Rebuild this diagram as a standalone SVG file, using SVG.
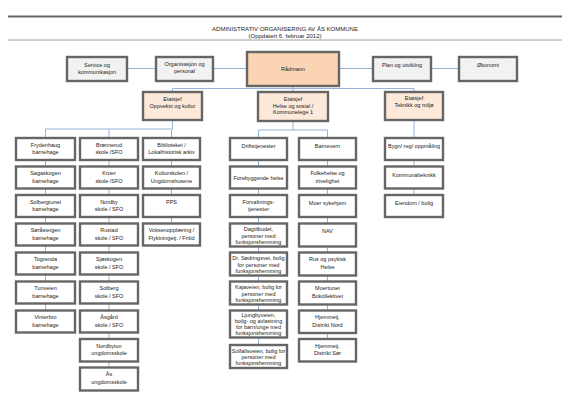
<svg xmlns="http://www.w3.org/2000/svg" width="570" height="403" viewBox="0 0 570 403">
<style>
text{font-family:"Liberation Sans",Arial,sans-serif;font-size:5.5px;fill:#222;text-anchor:middle}
.t{font-size:6px}
.b{stroke:#666;stroke-width:2.4;fill:#fff}
.g{fill:#f2f2f2}
.p{fill:#fde9d9}
.r{fill:#fbd4b4}
.c{stroke:#95b3d7;stroke-width:1;fill:none}
</style>
<rect width="570" height="403" fill="#fff"/>
<g id="title">
<line x1="8" y1="16.5" x2="562" y2="16.5" stroke="#666" stroke-width="1.8"/>
<line x1="8" y1="40" x2="562" y2="40" stroke="#888" stroke-width="0.8"/>
<text class="t" x="285" y="31">ADMINISTRATIV ORGANISERING AV ÅS KOMMUNE</text>
<text class="t" x="285" y="37.5">(Oppdatert 6. februar 2012)</text>
</g>
<g id="connectors" class="c">
<line x1="127" y1="68.5" x2="459" y2="68.5"/>
<path d="M293 86V88.5M172.5 88.5H414M172.5 88.5V92M293 88.5V92M414 88.5V92"/>
<path d="M172.5 120V129M45.5 129H171.5M45.5 129V138M109 129V138M171.5 129V138"/>
<path d="M45.5 138V333M109 138V390M171.5 138V246"/>
<path d="M293 121V130M258.5 130H327.5M258.5 130V345M327.5 130V339"/>
<path d="M414 120V217"/>
</g>
<g id="service"><rect class="b g" x="67" y="57" width="60" height="24"/><text x="97" y="67">Service og</text><text x="97" y="74">kommunikasjon</text></g>
<g id="organisasjon"><rect class="b g" x="156" y="57" width="57" height="24"/><text x="184.5" y="66">Organisasjon og</text><text x="184.5" y="73">personal</text></g>
<g id="radmann"><rect class="b r" x="247" y="52" width="92" height="34"/><text x="293" y="71">Rådmann</text></g>
<g id="plan"><rect class="b g" x="373" y="57" width="58" height="24"/><text x="402" y="66.5">Plan og utvikling</text></g>
<g id="okonomi"><rect class="b g" x="459" y="57" width="58" height="24"/><text x="488" y="66.5">Økonomi</text></g>
<g id="etat-oppvekst"><rect class="b p" x="143" y="92" width="59" height="28"/><text x="172.5" y="101">Etatsjef</text><text x="172.5" y="107.5">Oppvekst og kultur</text></g>
<g id="etat-helse"><rect class="b p" x="258" y="92" width="70" height="29"/><text x="293" y="101">Etatsjef</text><text x="293" y="107.7">Helse og sosial /</text><text x="293" y="114.4">Kommunelege 1</text></g>
<g id="etat-teknikk"><rect class="b p" x="385" y="92" width="58" height="28"/><text x="414" y="100.2">Etatsjef</text><text x="414" y="107">Teknikk og miljø</text></g>

<g id="frydenhaug"><rect class="b" x="16" y="138" width="59" height="22"/><text x="45.5" y="146.7">Frydenhaug</text><text x="45.5" y="154">barnehage</text></g>
<g id="sagaskogen"><rect class="b" x="16" y="166.5" width="59" height="22"/><text x="45.5" y="175.2">Sagaskogen</text><text x="45.5" y="182.5">barnehage</text></g>
<g id="solbergtunet"><rect class="b" x="16" y="195" width="59" height="22"/><text x="45.5" y="203.7">Solbergtunet</text><text x="45.5" y="211">barnehage</text></g>
<g id="soraasteigen"><rect class="b" x="16" y="223.5" width="59" height="22"/><text x="45.5" y="232.2">Søråsteigen</text><text x="45.5" y="239.5">barnehage</text></g>
<g id="togrenda"><rect class="b" x="16" y="252.5" width="59" height="22"/><text x="45.5" y="261.2">Togrenda</text><text x="45.5" y="268.5">barnehage</text></g>
<g id="tunveien"><rect class="b" x="16" y="281.5" width="59" height="22"/><text x="45.5" y="290.2">Tunveien</text><text x="45.5" y="297.5">barnehage</text></g>
<g id="vinterbro"><rect class="b" x="16" y="310.5" width="59" height="22"/><text x="45.5" y="319.2">Vinterbro</text><text x="45.5" y="326.5">barnehage</text></g>

<g id="bronnerud"><rect class="b" x="80" y="138" width="58" height="22"/><text x="109" y="146.7">Brønnerud</text><text x="109" y="154">skole /SFO</text></g>
<g id="kroer"><rect class="b" x="80" y="166.5" width="58" height="22"/><text x="109" y="175.2">Kroer</text><text x="109" y="182.5">skole /SFO</text></g>
<g id="nordby"><rect class="b" x="80" y="195" width="58" height="22"/><text x="109" y="203.7">Nordby</text><text x="109" y="211">skole / SFO</text></g>
<g id="rustad"><rect class="b" x="80" y="223.5" width="58" height="22"/><text x="109" y="232.2">Rustad</text><text x="109" y="239.5">skole / SFO</text></g>
<g id="sjoskogen"><rect class="b" x="80" y="252.5" width="58" height="22"/><text x="109" y="261.2">Sjøskogen</text><text x="109" y="268.5">skole / SFO</text></g>
<g id="solberg"><rect class="b" x="80" y="281.5" width="58" height="22"/><text x="109" y="290.2">Solberg</text><text x="109" y="297.5">skole / SFO</text></g>
<g id="aasgaard"><rect class="b" x="80" y="310.5" width="58" height="22"/><text x="109" y="319.2">Åsgård</text><text x="109" y="326.5">skole / SFO</text></g>
<g id="nordbytun"><rect class="b" x="80" y="339" width="58" height="22.5"/><text x="109" y="347.7">Nordbytun</text><text x="109" y="355">ungdomsskole</text></g>
<g id="aas-ungdom"><rect class="b" x="80" y="367.5" width="58" height="23"/><text x="109" y="376.2">Ås</text><text x="109" y="383.5">ungdomsskole</text></g>

<g id="bibliotek"><rect class="b" x="143" y="138" width="57" height="22"/><text x="171.5" y="146.7">Biblioteket /</text><text x="171.5" y="154">Lokalhistorisk arkiv</text></g>
<g id="kulturskolen"><rect class="b" x="143" y="166.5" width="57" height="22"/><text x="171.5" y="175.2">Kulturskolen /</text><text x="171.5" y="182.5">Ungdomshusene</text></g>
<g id="pps"><rect class="b" x="143" y="195" width="57" height="22"/><text x="171.5" y="203.5">PPS</text></g>
<g id="voksenopplaering"><rect class="b" x="143" y="223.5" width="57" height="22"/><text x="171.5" y="232.2">Voksenopplæring /</text><text x="171.5" y="239.5">Flyktningetj. / Fritid</text></g>

<g id="driftstjenester"><rect class="b" x="230" y="138" width="57" height="22"/><text x="258.5" y="147.5">Driftstjenester</text></g>
<g id="forebyggende"><rect class="b" x="230" y="166.5" width="57" height="22"/><text x="258.5" y="179.5">Forebyggende helse</text></g>
<g id="forvaltning"><rect class="b" x="230" y="195" width="57" height="22"/><text x="258.5" y="203.7">Forvaltnings-</text><text x="258.5" y="211">tjenester</text></g>
<g id="dagtilbudet"><rect class="b" x="230" y="223.5" width="57" height="23"/><text x="258.5" y="231.2">Dagtilbudet,</text><text x="258.5" y="237.5">personer med</text><text x="258.5" y="243.8">funksjonshemming</text></g>
<g id="sodringsvei"><rect class="b" x="230" y="252.5" width="57" height="23"/><text x="258.5" y="260.2">Dr. Sødringsvei, bolig</text><text x="258.5" y="266.5">for personer med</text><text x="258.5" y="272.8">funksjonshemming</text></g>
<g id="kajaveien"><rect class="b" x="230" y="281.5" width="57" height="23"/><text x="258.5" y="289.2">Kajaveien, bolig for</text><text x="258.5" y="295.5">personer med</text><text x="258.5" y="301.8">funksjonshemming</text></g>
<g id="ljungbyveien"><rect class="b" x="230" y="310.5" width="57" height="27"/><text x="258.5" y="317">Ljungbyveien,</text><text x="258.5" y="323">bolig- og avlastning</text><text x="258.5" y="329">for barn/unge med</text><text x="258.5" y="335">funksjonshemming</text></g>
<g id="solfallsveien"><rect class="b" x="230" y="345" width="57" height="23"/><text x="258.5" y="352.7">Solfallsveien, bolig for</text><text x="258.5" y="359">personer med</text><text x="258.5" y="365.3">funksjonshemming</text></g>

<g id="barnevern"><rect class="b" x="299" y="138" width="57" height="22"/><text x="327.5" y="147.5">Barnevern</text></g>
<g id="folkehelse"><rect class="b" x="299" y="166.5" width="57" height="22"/><text x="327.5" y="175.2">Folkehelse og</text><text x="327.5" y="182.5">trivelighet</text></g>
<g id="moer"><rect class="b" x="299" y="195" width="57" height="22"/><text x="327.5" y="204.5">Moer sykehjem</text></g>
<g id="nav"><rect class="b" x="299" y="223.5" width="57" height="23"/><text x="327.5" y="233">NAV</text></g>
<g id="rus"><rect class="b" x="299" y="252.5" width="57" height="23"/><text x="327.5" y="261.2">Rus og psykisk</text><text x="327.5" y="268.5">Helse</text></g>
<g id="moertunet"><rect class="b" x="299" y="281.5" width="57" height="23"/><text x="327.5" y="290.2">Moertunet</text><text x="327.5" y="297.5">Bokollektivet</text></g>
<g id="hjemmetj-nord"><rect class="b" x="299" y="310.5" width="57" height="22.5"/><text x="327.5" y="319.2">Hjemmetj.</text><text x="327.5" y="326.5">Distrikt Nord</text></g>
<g id="hjemmetj-sor"><rect class="b" x="299" y="339" width="57" height="22.5"/><text x="327.5" y="347.7">Hjemmetj.</text><text x="327.5" y="355">Distrikt Sør</text></g>

<g id="bygn"><rect class="b" x="385" y="138" width="58" height="22"/><text x="414" y="148">Bygn/ reg/ oppmåling</text></g>
<g id="kommunalteknikk"><rect class="b" x="385" y="166.5" width="58" height="22"/><text x="414" y="176.5">Kommunalteknikk</text></g>
<g id="eiendom"><rect class="b" x="385" y="195" width="58" height="22"/><text x="414" y="205">Eiendom / bolig</text></g>
</svg>
